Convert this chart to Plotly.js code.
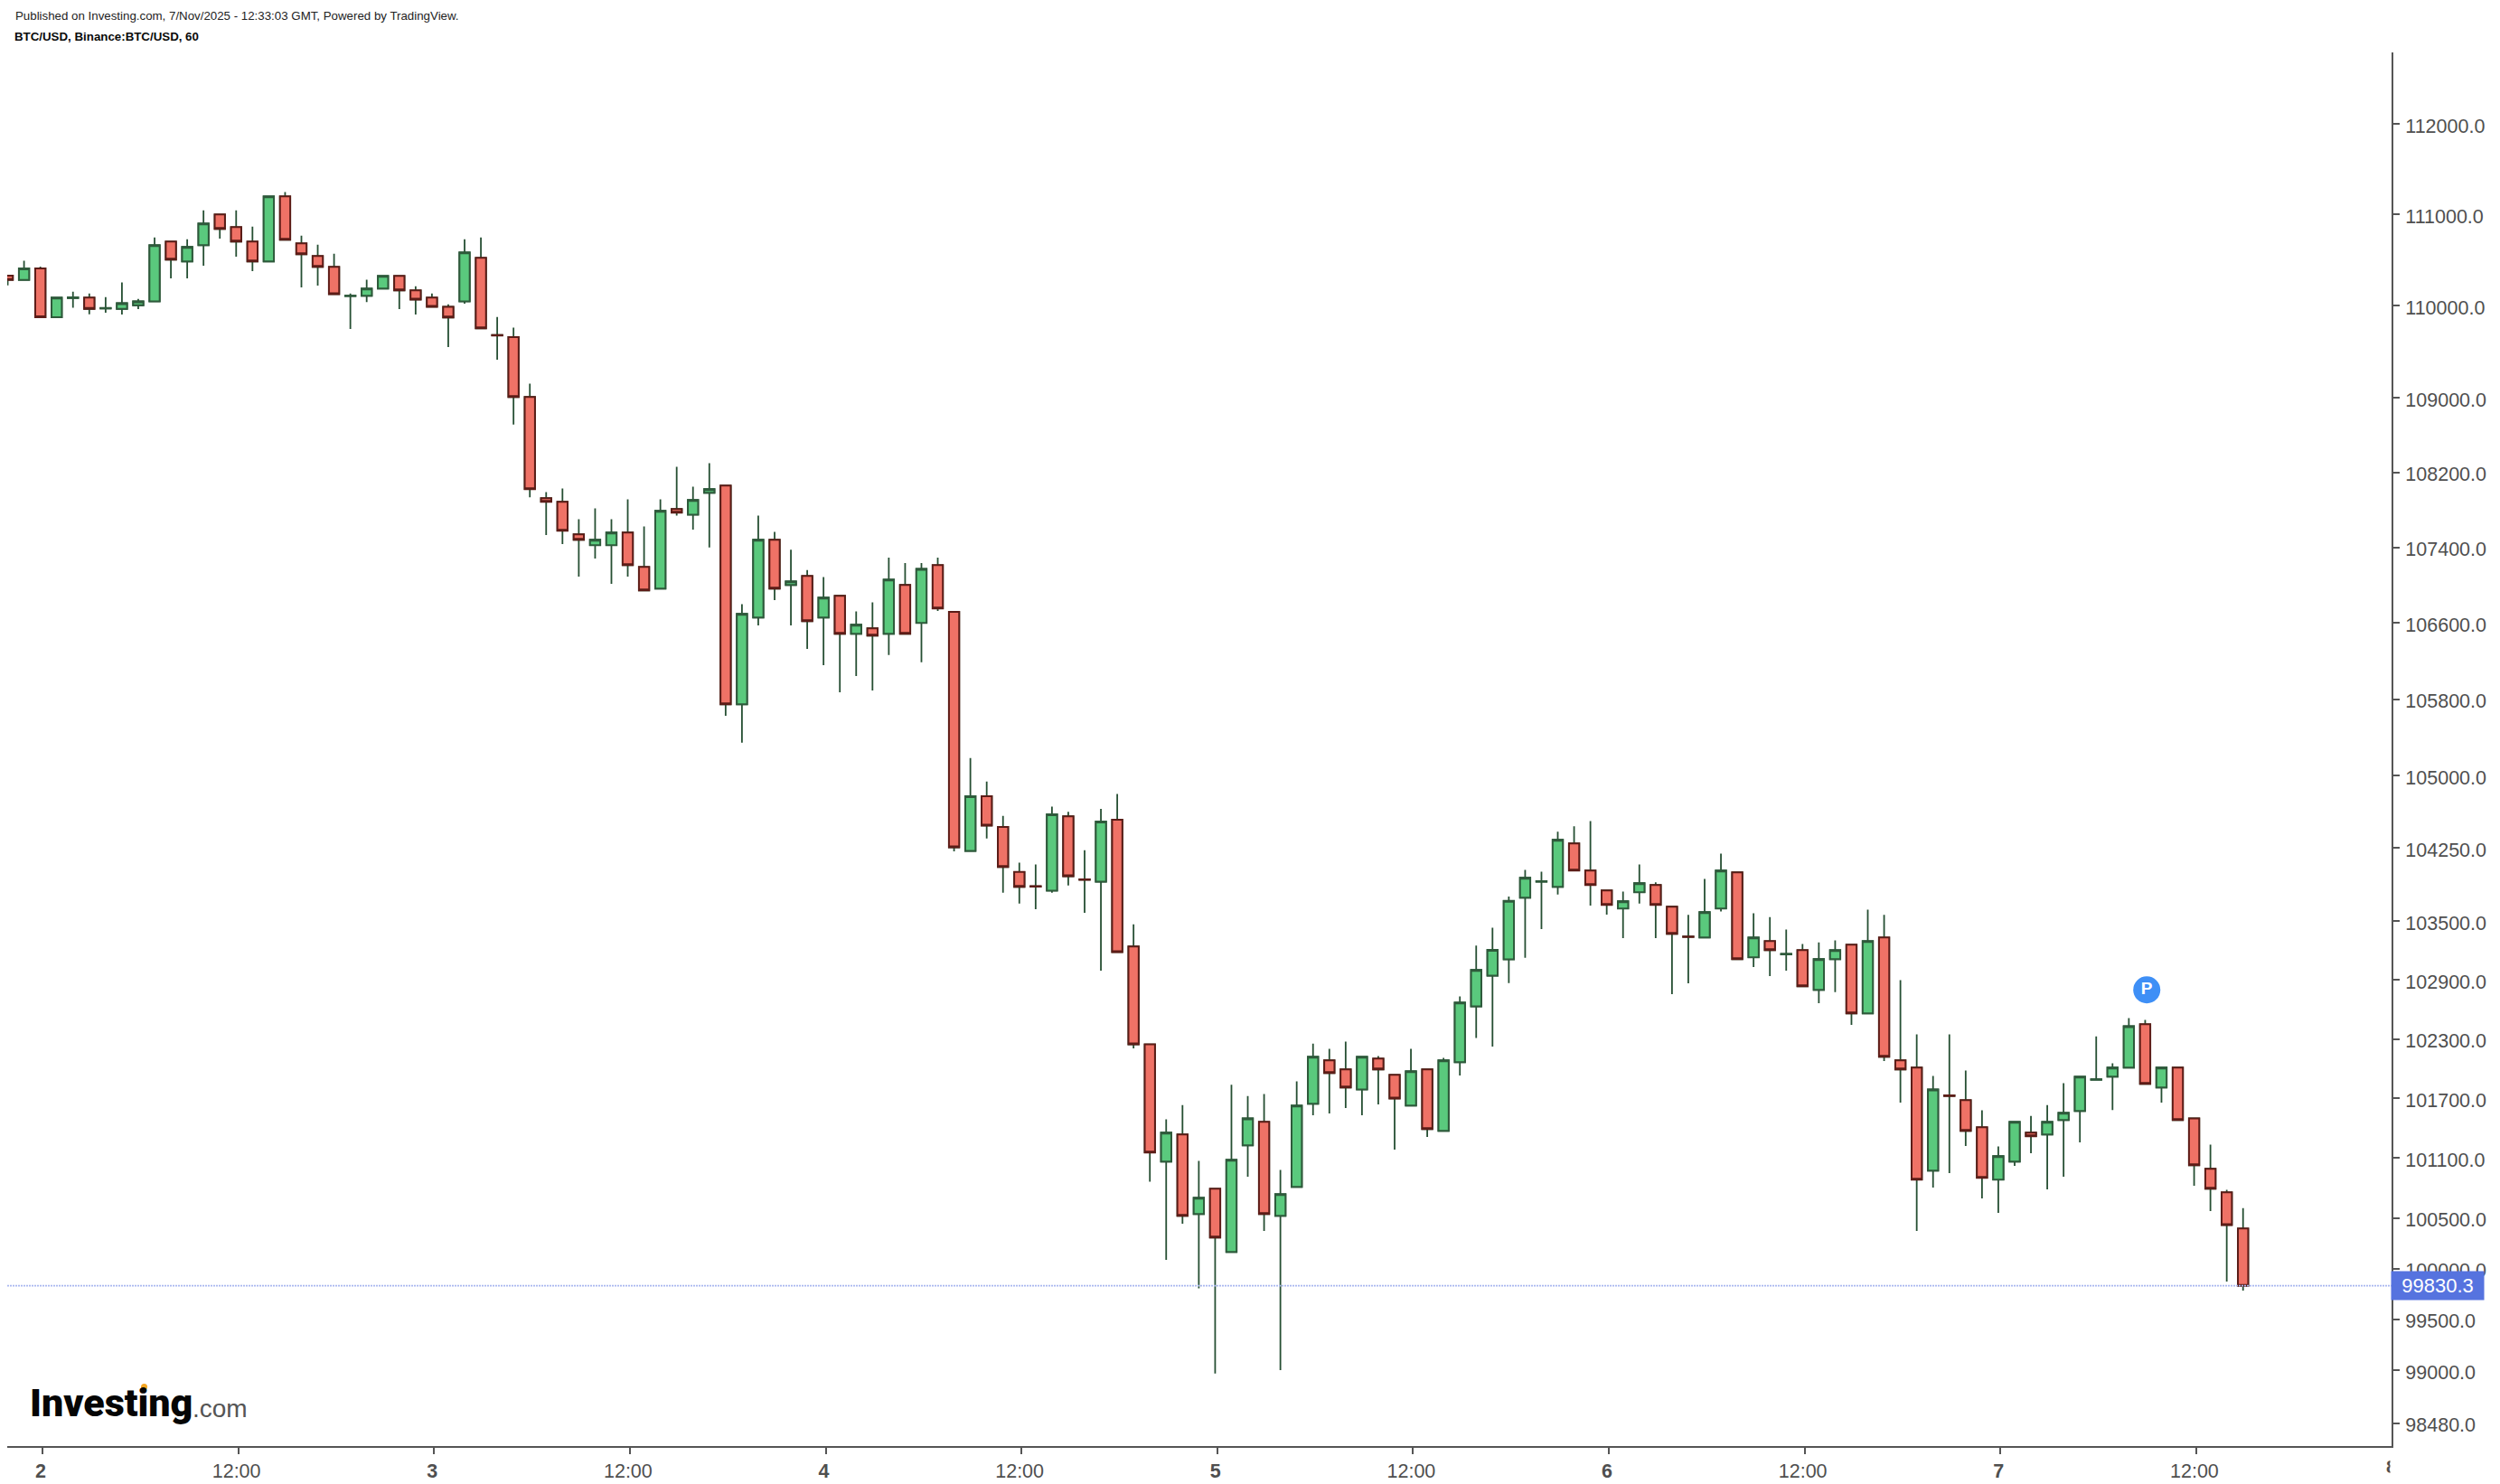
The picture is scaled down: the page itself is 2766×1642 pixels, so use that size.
<!DOCTYPE html>
<html>
<head>
<meta charset="utf-8">
<script src="https://cdn.plot.ly/plotly-3.0.1.min.js"></script>
<style>html,body{margin:0;padding:0;background:#fff}#chart{width:2766px;height:1642px}</style>
</head>
<body>
<div id="chart"></div>
<script>
// Hours relative to 2 Nov 2025 00:00 (chart time zone)
const hourOffsets = [-2,-1,0,1,2,3,4,5,6,7,8,9,10,11,12,13,14,15,16,17,18,19,20,21,22,23,24,25,26,27,28,29,30,31,32,33,34,35,36,37,38,39,40,41,42,43,44,45,46,47,48,49,50,51,52,53,54,55,56,57,58,59,60,61,62,63,64,65,66,67,68,69,70,71,72,73,74,75,76,77,78,79,80,81,82,83,84,85,86,87,88,89,90,91,92,93,94,95,96,97,98,99,100,101,102,103,104,105,106,107,108,109,110,111,112,113,114,115,116,117,118,119,120,121,122,123,124,125,126,127,128,129,130,131,132,133,134,135];
const openPrices = [110329,110283,110409,109876,110085,110089,109972,109967,110006,110049,110702,110484,110662,110999,110860,110702,110484,111198,110682,110543,110425,110107,110109,110188,110326,110168,110089,109990,110049,110524,109682,109661,109012,107925,107887,107540,107425,107425,107559,107193,106963,107810,107750,107983,108060,105746,106658,107482,107002,107097,106658,106887,106486,106544,106486,107002,106601,107212,106717,104221,104788,104469,104005,103858,103813,104580,103929,103905,104544,103241,102245,101065,101337,100542,100794,100165,101228,101463,100524,100812,101645,102083,101992,101790,102101,101936,101627,101992,101373,102065,102630,102943,103110,103740,103905,103852,104299,104020,103815,103630,103797,103871,103648,103343,103332,103630,104001,103130,103295,103160,103203,102798,103111,103258,102558,103332,102083,102010,100975,101730,101681,101409,100885,101065,101355,101337,101481,101572,101888,101918,102010,102448,101809,102010,101499,100993,100758,100398];
const highPrices = [110329,110491,110428,110089,110155,110135,110096,110254,110075,110748,110702,110728,111045,110999,111045,110867,111198,111245,110768,110669,110570,110135,110284,110326,110326,110214,110135,110016,110728,110748,109879,109762,109155,107990,108028,107701,107816,107701,107913,107624,107913,108261,108048,108300,108060,106799,107739,107566,107375,107161,107085,106887,106722,106818,107293,107235,107235,107293,106717,105184,104940,104584,104100,104082,104680,104625,104229,104656,104811,103468,102245,101488,101633,101072,100794,101837,101723,101743,100981,101870,102253,102199,102272,102119,102126,101936,102199,101992,102108,102731,103249,103432,103751,104026,104008,104420,104476,104530,103815,103803,104082,103899,103648,103565,103933,104193,104001,103580,103542,103413,103265,103283,103302,103258,103617,103565,102897,102345,101925,102345,101980,101579,101216,101463,101524,101633,101852,101918,102326,102053,102510,102492,102010,102010,101499,101234,100782,100601];
const lowPrices = [110224,110283,109876,109876,109980,109909,109925,109905,109964,110049,110300,110300,110438,110735,110537,110379,110484,110722,110201,110221,110128,109749,110042,110188,109964,109905,109990,109553,110023,109755,109416,108714,107935,107533,107437,107091,107282,107014,107091,106944,106963,107739,107591,107399,105626,105344,106575,106842,106575,106327,106155,105872,106042,105891,106262,106486,106186,106728,104218,104221,104351,103791,103681,103622,103791,103865,103586,102993,103183,102205,100864,100087,100446,99805,98966,100165,100914,100374,99001,100812,101529,101548,101602,101529,101639,101186,101627,101312,101373,101931,102310,102223,102866,103125,103419,103772,104020,103660,103567,103326,103679,103326,102755,102865,103332,103600,103111,103031,102939,102994,102835,102663,102774,102442,102558,102077,101657,100374,100806,100951,101222,100697,100553,101023,101149,100788,100914,101258,101885,101583,102010,101845,101657,101481,100824,100571,99872,99783];
const closePrices = [110283,110409,109876,110089,110092,109967,109976,110029,110049,110662,110504,110643,110900,110840,110702,110484,111198,110722,110563,110425,110128,110110,110188,110326,110168,110069,109990,109873,110583,109755,109678,109012,108022,107887,107579,107482,107482,107559,107212,106944,107790,107771,107906,108022,105746,106696,107482,106963,107040,106620,106868,106486,106582,106467,107059,106486,107173,106754,104258,104788,104484,104056,103851,103854,104599,103960,103925,104525,103183,102245,101156,101355,100524,100704,100308,101083,101499,100542,100740,101627,102119,101955,101809,102119,101992,101699,101973,101391,102083,102669,103001,103205,103707,103945,103911,104336,104020,103871,103667,103704,103890,103667,103370,103338,103592,104020,103111,103332,103203,103165,102835,103111,103203,102558,103295,102119,101992,100885,101790,101724,101373,100903,101120,101463,101319,101463,101554,101918,101892,102010,102429,101845,102010,101481,101029,100794,100433,99830.3];

const priceTicks = [112000,111000,110000,109000,108200,107400,106600,105800,105000,104250,103500,102900,102300,101700,101100,100500,100000,99500,99000,98480];
const priceTickLabels = ["112000.0","111000.0","110000.0","109000.0","108200.0","107400.0","106600.0","105800.0","105000.0","104250.0","103500.0","102900.0","102300.0","101700.0","101100.0","100500.0","100000.0","99500.0","99000.0","98480.0"];
const timeTickHours = [0,12,24,36,48,60,72,84,96,108,120,132];
const timeTickLabels = ["<b>2</b>","12:00","<b>3</b>","12:00","<b>4</b>","12:00","<b>5</b>","12:00","<b>6</b>","12:00","<b>7</b>","12:00"];
const lastPrice = 99830.3;
const publishedText = "Published on Investing.com, 7/Nov/2025 - 12:33:03 GMT, Powered by TradingView.";
const symbolText = "BTC/USD, Binance:BTC/USD, 60";
const pinHours = [129.1];
const pinPrices = [102798];

const T0 = Date.UTC(2025, 10, 2);
const toX = h => new Date(T0 + h * 3600000).toISOString();
const xs = hourOffsets.map(toX);

const GREEN = "#5AC97D", GREEN_LINE = "#2E5A3B", RED = "#EF7266", RED_LINE = "#5C1C17";
const FONT = '"Liberation Sans", Arial, sans-serif';
const AXIS = "#555555", TEXT = "#4F4F4F";

const idx = hourOffsets.map((_, i) => i);
const upIdx = idx.filter(i => closePrices[i] >= openPrices[i]);
const dnIdx = idx.filter(i => closePrices[i] < openPrices[i]);
const pick = (arr, ids) => ids.map(i => arr[i]);

function bodyTrace(ids, fill, line) {
  const o = pick(openPrices, ids), c = pick(closePrices, ids);
  const dir = {line: {color: line, width: 2}, fillcolor: fill};
  return {
    type: "candlestick", x: pick(xs, ids), open: o, close: c,
    high: o.map((v, k) => Math.max(v, c[k])), low: o.map((v, k) => Math.min(v, c[k])),
    increasing: dir, decreasing: dir, whiskerwidth: 0, showlegend: false, hoverinfo: "skip"
  };
}
const wickDir = {line: {color: "#264F33", width: 1.8}, fillcolor: "rgba(0,0,0,0)"};
const wicks = {
  type: "candlestick", x: xs, open: openPrices, high: highPrices, low: lowPrices, close: closePrices,
  increasing: wickDir, decreasing: wickDir, whiskerwidth: 0, showlegend: false, hoverinfo: "skip"
};
const pin = {
  type: "scatter", mode: "markers+text", x: pinHours.map(toX), y: pinPrices,
  marker: {size: 30, color: "#3E8FF6", line: {width: 0}},
  text: ["<b>P</b>"], textposition: "middle center",
  textfont: {family: FONT, size: 19, color: "#FFFFFF"}, showlegend: false, hoverinfo: "skip"
};

// Plot box in page pixels
const L = 8, R = 2646, Tp = 58, B = 1600;
const px = x => (x - L) / (R - L), py = y => (B - y) / (B - Tp);
const note = (text, x, y, size, color, extra) => Object.assign({
  text, xref: "paper", yref: "paper", x: px(x), y: py(y), xanchor: "left", yanchor: "middle",
  showarrow: false, font: {family: FONT, size, color}, align: "left"
}, extra || {});

const annotations = [
  note(publishedText, 15, 17, 13.3, "#222222"),
  note("<b>" + symbolText + "</b>", 14, 40, 13.3, "#0A0A0A"),
  note("Investing", 31, 1552, 43, "#050505",
       {font: {family: "Roboto, " + FONT, size: 43, weight: 900, color: "#050505"}}),
  note(".com", 211, 1558, 28, "#555555"),
  note("<b>8</b>", 2638, 1622, 21, TEXT),
  note(" ", 2644, 1622, 21, "#FFFFFF", {bgcolor: "#FFFFFF", width: 20, height: 34}),
  {text: String(lastPrice), xref: "paper", yref: "y", x: px(2645), y: Math.log10(lastPrice),
   xanchor: "left", yanchor: "middle", showarrow: false, width: 102, height: 31, bgcolor: "#5673DF",
   align: "center", font: {family: FONT, size: 22, color: "#FFFFFF"}, borderpad: 0}
];

const shapes = [
  {type: "line", xref: "paper", yref: "y", x0: 0, x1: px(2651), y0: lastPrice, y1: lastPrice,
   line: {color: "#A9B8F0", width: 1.6, dash: "2px,1px"}, layer: "above"},
  {type: "circle", xref: "paper", yref: "paper", x0: px(156), x1: px(163), y0: py(1538), y1: py(1531),
   fillcolor: "#F5A623", line: {width: 0}, layer: "above"}
];

const layout = {
  width: 2766, height: 1642, paper_bgcolor: "#FFFFFF", plot_bgcolor: "#FFFFFF",
  margin: {l: L, r: 2766 - R, t: Tp, b: 1642 - B, pad: 0},
  showlegend: false, hovermode: false, dragmode: false,
  boxmode: "overlay", boxgap: 0.37, boxgroupgap: 0,
  font: {family: FONT, size: 21, color: TEXT},
  xaxis: {
    type: "date", range: [toX(-2.03), toX(144.1)], rangeslider: {visible: false},
    tickmode: "array", tickvals: timeTickHours.map(h => toX(h + 0.13)), ticktext: timeTickLabels,
    ticks: "outside", ticklen: 7, tickwidth: 2, tickcolor: AXIS,
    showline: true, linecolor: AXIS, linewidth: 2, showgrid: false, zeroline: false,
    ticklabelshift: -2,
    tickfont: {family: FONT, size: 21.5, color: TEXT}
  },
  yaxis: {
    type: "log", side: "right", range: [4.992372, 5.052288],
    tickmode: "array", tickvals: priceTicks, ticktext: priceTickLabels,
    ticks: "outside", ticklen: 7, tickwidth: 2, tickcolor: AXIS,
    showline: true, linecolor: AXIS, linewidth: 2, showgrid: false, zeroline: false,
    ticklabelstandoff: 2, ticklabelshift: 2,
    tickfont: {family: FONT, size: 21.5, color: TEXT}
  },
  annotations, shapes
};

Plotly.newPlot("chart",
  [wicks, bodyTrace(upIdx, GREEN, GREEN_LINE), bodyTrace(dnIdx, RED, RED_LINE), pin],
  layout, {staticPlot: true, displayModeBar: false});
</script>
</body>
</html>
